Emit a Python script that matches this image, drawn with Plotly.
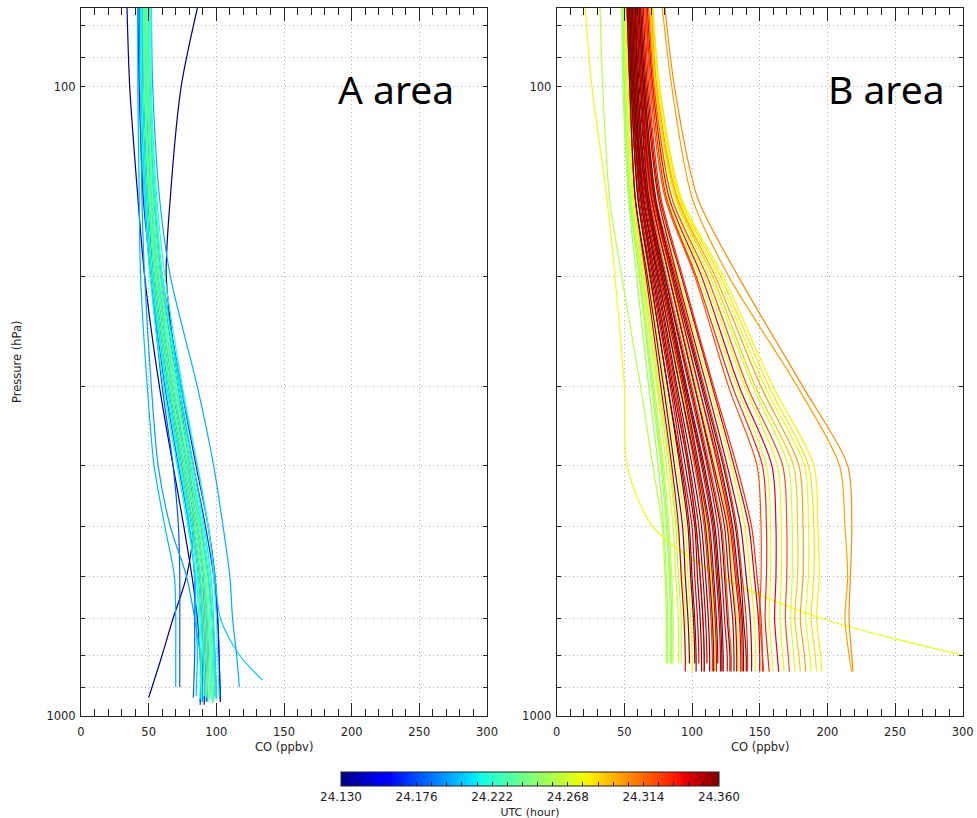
import numpy as np
import plotly.graph_objects as go
from plotly.colors import sample_colorscale

# Pressure levels (hPa) at which each CO profile is listed
levels = [75, 100, 150, 200, 300, 400, 500, 600, 700, 800]

# ---- A area profiles ----
a_utc = [24.131, 24.134, 24.160, 24.170, 24.190, 24.200, 24.195, 24.205, 24.198,
         24.215, 24.220, 24.225, 24.230, 24.235, 24.240, 24.228, 24.232, 24.238,
         24.222, 24.226, 24.212, 24.234, 24.218, 24.175, 24.165, 24.180, 24.188,
         24.155, 24.202, 24.150, 24.172, 24.178]
a_co = [
    [86, 74, 66, 63, 72, 80, 83, 78, 68, 60],
    [34, 36, 42, 47, 58, 68, 76, 82, 86, 88],
    [42, 43, 46, 52, 64, 74, 82, 87, 89, 90],
    [45, 46, 50, 55, 67, 78, 86, 91, 93, 94],
    [48, 48, 52, 57, 70, 81, 89, 94, 97, 98],
    [42, 42, 43, 44, 49, 54, 62, 69, 70, 70],
    [44, 44, 45, 47, 52, 57, 66, 78, 84, 88],
    [50, 50, 54, 60, 74, 86, 94, 99, 103, 117],
    [52, 53, 58, 66, 86, 98, 105, 110, 112, 115],
    [44, 44, 47, 51, 61, 71, 79, 85, 87, 88],
    [45, 45, 48, 52, 63, 73, 81, 86, 88, 89],
    [46, 46, 49, 53, 64, 74, 82, 87, 89, 90],
    [47, 47, 50, 54, 65, 75, 83, 88, 90, 91],
    [47, 47, 51, 55, 66, 76, 84, 89, 91, 92],
    [48, 48, 51, 56, 67, 77, 85, 90, 92, 93],
    [48, 49, 52, 57, 68, 78, 86, 91, 93, 94],
    [49, 49, 53, 58, 69, 79, 87, 92, 94, 95],
    [49, 50, 53, 58, 70, 80, 88, 93, 95, 96],
    [50, 50, 54, 59, 71, 81, 89, 94, 96, 97],
    [50, 51, 55, 60, 72, 82, 90, 95, 97, 98],
    [51, 51, 55, 60, 73, 83, 91, 96, 98, 99],
    [46, 47, 50, 55, 66, 77, 86, 91, 94, 96],
    [52, 52, 56, 62, 75, 86, 94, 98, 100, 101],
    [46, 46, 50, 54, 65, 76, 85, 90, 92, 93],
    [50, 50, 54, 59, 72, 83, 92, 98, 101, 102],
    [43, 44, 47, 52, 62, 72, 80, 84, 84, 84],
    [47, 47, 51, 56, 68, 79, 88, 94, 97, 99],
    [49, 50, 54, 60, 74, 85, 94, 99, 101, 102],
    [45, 45, 48, 53, 63, 73, 80, 84, 85, 86],
    [46, 46, 49, 54, 66, 77, 86, 90, 91, 92],
    [44, 44, 48, 53, 64, 75, 83, 88, 90, 91],
    [45, 45, 48, 52, 60, 68, 72, 73, 73, 73],
]
a_end_p = [935, 940, 950, 945, 930, 900, 950, 877, 900, 940, 950, 930, 945, 935, 950,
           940, 930, 945, 950, 935, 940, 955, 930, 950, 945, 935, 940, 950, 930, 960,
           960, 900]
a_end_co = [50, 90, 88, 93, 99, 70, 90, 134, 117, 88, 89, 91, 92, 93, 94, 95, 96, 97,
            98, 99, 100, 97, 102, 93, 103, 83, 100, 103, 85, 91, 88, 73]

# ---- B area profiles ----
b_utc = [24.262, 24.255, 24.258, 24.265, 24.270, 24.260, 24.345, 24.360, 24.280, 24.355,
         24.340, 24.360, 24.325, 24.350, 24.360, 24.330, 24.275, 24.355, 24.345, 24.360,
         24.340, 24.320, 24.350, 24.285, 24.340, 24.360, 24.330, 24.350, 24.280, 24.345,
         24.330, 24.320, 24.330, 24.275, 24.340, 24.280, 24.320, 24.270, 24.290, 24.300,
         24.275, 24.285, 24.280, 24.300, 24.305, 24.275, 24.360, 24.355, 24.360, 24.350,
         24.360, 24.360, 24.350, 24.330, 24.340, 24.250, 24.268]
b_co = [
    [32, 34, 39, 48, 62, 71, 78, 80, 81, 81],
    [48, 49, 53, 59, 68, 75, 79, 81, 82, 82],
    [49, 50, 54, 61, 70, 77, 81, 83, 84, 84],
    [50, 51, 55, 62, 72, 79, 83, 85, 86, 86],
    [50, 52, 56, 63, 74, 81, 86, 88, 90, 90],
    [51, 53, 57, 64, 75, 83, 88, 90, 92, 92],
    [52, 54, 58, 66, 77, 85, 90, 92, 94, 95],
    [52, 54, 58, 67, 79, 87, 93, 95, 97, 98],
    [53, 55, 60, 68, 80, 89, 95, 97, 99, 100],
    [53, 55, 60, 69, 82, 92, 98, 100, 102, 103],
    [54, 56, 61, 70, 84, 93, 100, 102, 104, 105],
    [54, 56, 62, 71, 85, 95, 102, 104, 106, 107],
    [55, 57, 63, 72, 87, 97, 103, 106, 108, 109],
    [55, 57, 63, 73, 88, 98, 105, 108, 110, 111],
    [56, 58, 64, 74, 89, 100, 107, 110, 112, 113],
    [56, 58, 64, 75, 91, 102, 109, 112, 114, 115],
    [57, 59, 66, 76, 92, 104, 111, 114, 116, 117],
    [57, 59, 66, 77, 94, 105, 113, 116, 118, 119],
    [58, 60, 67, 78, 95, 107, 115, 118, 120, 121],
    [58, 60, 67, 79, 96, 109, 117, 120, 122, 123],
    [59, 62, 68, 80, 98, 111, 119, 122, 124, 126],
    [59, 62, 69, 81, 100, 113, 122, 125, 127, 129],
    [60, 63, 70, 83, 102, 115, 124, 127, 130, 131],
    [60, 63, 71, 84, 103, 117, 127, 130, 133, 134],
    [61, 64, 72, 85, 105, 119, 128, 132, 135, 136],
    [62, 65, 73, 86, 107, 121, 130, 134, 137, 138],
    [62, 65, 73, 88, 109, 124, 133, 137, 140, 141],
    [63, 66, 75, 89, 111, 126, 136, 140, 143, 144],
    [63, 66, 75, 90, 113, 129, 139, 143, 146, 147],
    [64, 67, 76, 92, 115, 131, 142, 146, 149, 150],
    [65, 68, 77, 93, 116, 133, 144, 148, 151, 152],
    [66, 69, 80, 102, 127, 148, 151, 151, 150, 152],
    [66, 70, 81, 103, 130, 152, 155, 155, 154, 156],
    [67, 71, 82, 105, 133, 155, 158, 158, 157, 159],
    [67, 71, 83, 107, 135, 159, 162, 162, 161, 163],
    [68, 72, 85, 109, 139, 163, 166, 166, 165, 167],
    [68, 72, 85, 111, 141, 167, 170, 170, 169, 171],
    [69, 73, 87, 113, 145, 171, 174, 174, 173, 175],
    [69, 73, 88, 115, 147, 175, 178, 178, 176, 179],
    [70, 74, 89, 117, 151, 179, 182, 182, 180, 183],
    [70, 75, 90, 119, 154, 183, 186, 186, 184, 187],
    [71, 76, 91, 121, 157, 186, 190, 190, 188, 191],
    [71, 76, 92, 123, 160, 190, 193, 194, 192, 195],
    [78, 85, 100, 127, 178, 209, 213, 215, 213, 216],
    [80, 87, 104, 134, 182, 215, 218, 217, 216, 218],
    [21, 26, 37, 43, 50, 52, 71, 121, 196, 300],
    [55, 57, 64, 75, 91, 103, 110, 113, 115, 116],
    [57, 59, 66, 78, 95, 108, 116, 119, 121, 122],
    [58, 61, 68, 80, 99, 112, 121, 124, 126, 128],
    [59, 62, 70, 83, 102, 116, 126, 129, 132, 133],
    [61, 64, 72, 87, 108, 123, 132, 136, 138, 140],
    [53, 55, 60, 69, 82, 91, 97, 99, 101, 102],
    [54, 56, 62, 72, 86, 97, 103, 106, 108, 109],
    [60, 63, 71, 85, 105, 120, 129, 133, 136, 137],
    [56, 58, 65, 76, 93, 104, 112, 115, 117, 118],
    [49, 50, 54, 61, 71, 78, 82, 84, 85, 85],
    [51, 53, 57, 65, 76, 84, 89, 93, 95, 95],
]
b_end_p = [825, 825, 825, 825, 825, 825, 850, 825, 850, 850, 825, 850, 850, 825, 850,
           850, 850, 825, 850, 850, 850, 850, 850, 850, 850, 850, 850, 850, 850, 850,
           850, 850, 850, 850, 850, 850, 850, 850, 850, 850, 850, 850, 850, 850, 850,
           820, 850, 850, 850, 850, 850, 825, 850, 850, 850, 825, 825]
b_end_co = [81, 82, 84, 86, 90, 92, 95, 98, 100, 103, 105, 107, 109, 111, 113, 115, 117,
            119, 121, 123, 126, 129, 131, 134, 136, 138, 141, 144, 147, 150, 152, 153,
            157, 160, 164, 168, 172, 176, 180, 184, 188, 192, 196, 218, 219, 330, 116,
            122, 128, 133, 140, 102, 109, 137, 118, 85, 96]

# Colour bar
utc_min, utc_max = 24.130, 24.360
utc_ticks = [24.130, 24.176, 24.222, 24.268, 24.314, 24.360]

# Jet colour table
jet = [
    [0.0, "rgb(0,0,128)"], [0.11, "rgb(0,0,255)"], [0.125, "rgb(0,0,255)"],
    [0.34, "rgb(0,219,255)"], [0.35, "rgb(0,229,247)"], [0.375, "rgb(21,255,226)"],
    [0.64, "rgb(239,255,8)"], [0.65, "rgb(247,245,0)"], [0.66, "rgb(255,236,0)"],
    [0.89, "rgb(255,19,0)"], [0.91, "rgb(232,0,0)"], [1.0, "rgb(128,0,0)"],
]


def utc_color(t):
    f = (t - utc_min) / (utc_max - utc_min)
    return sample_colorscale(jet, [min(max(f, 0.0), 1.0)])[0]


fig = go.Figure()


def add_profiles(utc, co, end_p, end_co, xa, ya):
    order = np.argsort(utc, kind="stable")
    for i in order:
        xs = list(co[i]) + [end_co[i]]
        ys = list(levels) + [end_p[i]]
        fig.add_trace(go.Scatter(
            x=xs, y=ys, mode="lines", xaxis=xa, yaxis=ya,
            line=dict(color=utc_color(utc[i]), width=1.2, shape="spline", smoothing=0.8),
            hoverinfo="skip", showlegend=False))


add_profiles(a_utc, a_co, a_end_p, a_end_co, "x", "y")
add_profiles(b_utc, b_co, b_end_p, b_end_co, "x2", "y2")

# invisible trace carrying the colour bar
W, H = 977, 818
cb_minor = [round(utc_min + k * (utc_max - utc_min) / 25, 4) for k in range(26)]
fig.add_trace(go.Scatter(
    x=[None, None], y=[None, None], mode="markers", xaxis="x", yaxis="y",
    hoverinfo="skip", showlegend=False,
    marker=dict(color=[utc_min, utc_max], cmin=utc_min, cmax=utc_max,
                colorscale=jet, showscale=True,
                colorbar=dict(
                    orientation="h", x=530 / W, xanchor="center",
                    len=378 / W, lenmode="fraction", thickness=14,
                    y=1 - 772 / H, yanchor="top", xpad=0, ypad=0,
                    outlinewidth=1, outlinecolor="#222",
                    tickmode="array", tickvals=cb_minor,
                    ticktext=[("%.3f" % v) if any(abs(v - u) < 1e-6 for u in utc_ticks) else ""
                              for v in cb_minor],
                    ticks="inside", ticklen=4, tickcolor="#222",
                    tickfont=dict(family="DejaVu Sans", size=12, color="#222"),
                    title=dict(text="UTC (hour)", side="bottom",
                               font=dict(family="DejaVu Sans", size=11, color="#222")),
                ))))

grid_p = [80, 90, 100, 200, 300, 400, 500, 600, 700, 800, 900, 1000]
grid_txt = ["100" if p == 100 else "1000" if p == 1000 else "" for p in grid_p]
tick_font = dict(family="DejaVu Sans", size=11.5, color="#222")

x_common = dict(range=[0, 300], tickmode="linear", tick0=0, dtick=50,
                ticks="inside", ticklen=13, tickwidth=1, tickcolor="#222",
                minor=dict(dtick=10, ticks="inside", ticklen=7, tickcolor="#222", showgrid=False),
                showline=True, linecolor="#222", linewidth=1, mirror="ticks",
                showgrid=True, gridcolor="#b4b4b4", griddash="1px,3px", gridwidth=1,
                zeroline=False, tickfont=tick_font, ticklabelstandoff=5)
y_common = dict(type="log", range=[3, np.log10(75)], tickmode="array",
                tickvals=grid_p, ticktext=grid_txt, ticks="inside", ticklen=4,
                tickcolor="#222", showline=True, linecolor="#222", linewidth=1,
                mirror="ticks", showgrid=True, gridcolor="#b4b4b4", griddash="1px,3px",
                gridwidth=1, zeroline=False, tickfont=tick_font, ticklabelstandoff=2)

y_dom = [1 - 716 / H, 1 - 8 / H]
fig.update_layout(
    width=W, height=H, margin=dict(l=0, r=0, t=0, b=0, autoexpand=False),
    paper_bgcolor="white", plot_bgcolor="white",
    xaxis=dict(domain=[81 / W, 487 / W], anchor="y", **x_common),
    yaxis=dict(domain=y_dom, anchor="x", **y_common),
    xaxis2=dict(domain=[556.7 / W, 962.7 / W], anchor="y2", **x_common),
    yaxis2=dict(domain=y_dom, anchor="x2", **y_common),
)


def label(text, px, py, font, angle=0):
    fig.add_annotation(x=px / W, y=1 - py / H, xref="paper", yref="paper",
                       xanchor="center", yanchor="middle", text=text,
                       textangle=angle, showarrow=False, font=font)


label_font = dict(family="DejaVu Sans", size=11.5, color="#222")
label("Pressure (hPa)", 17, 362, label_font, angle=-90)
for cx in (284, 760):
    label("CO (ppbv)", cx, 747, label_font)

area_font = dict(family="Noto Sans", size=39, color="black")
label("A area", 396, 88, area_font)
label("B area", 886, 88, area_font)

fig.write_html("out.html")
